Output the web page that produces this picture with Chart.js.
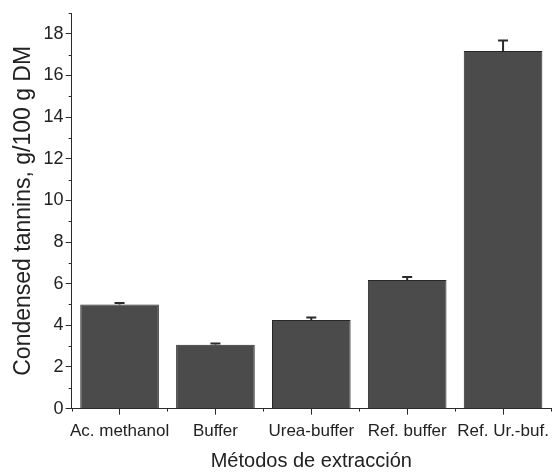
<!DOCTYPE html>
<html>
<head>
<meta charset="utf-8">
<script src="https://cdn.jsdelivr.net/npm/chart.js@4"></script>
<style>
  html, body { margin: 0; padding: 0; background: #fff; }
  #wrap { width: 552px; height: 473px; }
</style>
</head>
<body>
<div id="wrap"><canvas id="chart" width="552" height="473"></canvas></div>
<script>
// data
const methods  = ['Ac. methanol', 'Buffer', 'Urea-buffer', 'Ref. buffer', 'Ref. Ur.-buf.'];
const tannins  = [5.0, 3.07, 4.25, 6.18, 17.18];
const tanninSd = [0.07, 0.06, 0.13, 0.14, 0.5];

const ink = '#2b2b2b';

// upward error bars + minor ticks on both axes
const extras = {
  id: 'extras',
  afterDatasetsDraw(chart) {
    const ctx = chart.ctx;
    const x = chart.scales.x, y = chart.scales.y;
    ctx.save();
    ctx.strokeStyle = ink;
    ctx.lineWidth = 2;
    tannins.forEach((v, i) => {
      const px = x.getPixelForValue(i);
      const top = y.getPixelForValue(v + tanninSd[i]);
      const base = y.getPixelForValue(v);
      ctx.beginPath();
      ctx.moveTo(px, base); ctx.lineTo(px, top);
      ctx.moveTo(px - 5, top); ctx.lineTo(px + 5, top);
      ctx.stroke();
    });
    ctx.lineWidth = 1;
    // minor x ticks at category boundaries
    const y0 = y.getPixelForValue(0);
    for (let i = 0; i <= methods.length; i++) {
      const px = Math.round(x.getPixelForValue(i - 0.5)) + 0.5;
      ctx.beginPath(); ctx.moveTo(px, y0); ctx.lineTo(px, y0 + 3); ctx.stroke();
    }
    // minor y ticks at odd values
    const x0 = x.left;
    for (let v = 1; v <= 19; v += 2) {
      const py = Math.round(y.getPixelForValue(v)) + 0.5;
      ctx.beginPath(); ctx.moveTo(x0, py); ctx.lineTo(x0 - 3, py); ctx.stroke();
    }
    ctx.restore();
  }
};

new Chart(document.getElementById('chart'), {
  type: 'bar',
  data: {
    labels: methods,
    datasets: [{
      data: tannins,
      backgroundColor: '#4b4b4b',
      borderColor: '#262626',
      borderWidth: 1,
      categoryPercentage: 1,
      barPercentage: 0.82
    }]
  },
  plugins: [extras],
  options: {
    responsive: false,
    animation: false,
    layout: { padding: { top: 13, right: 1, left: 10, bottom: 0 } },
    plugins: { legend: { display: false }, tooltip: { enabled: false } },
    scales: {
      x: {
        afterFit: s => { s.paddingRight = 0; },
        grid: { offset: false, drawOnChartArea: false, tickLength: 6, tickColor: ink },
        border: { color: ink, width: 1 },
        ticks: { color: '#222', font: { family: 'Liberation Sans', size: 17 }, padding: 7, maxRotation: 0, autoSkip: false },
        title: { display: true, text: 'Métodos de extracción', color: '#222',
                 font: { family: 'Liberation Sans', size: 20 }, padding: { top: 0, bottom: 0 } }
      },
      y: {
        min: 0, max: 19,
        grid: { drawOnChartArea: false, tickLength: 6,
                tickColor: c => (c.tick && c.tick.value % 2 === 0) ? ink : 'rgba(0,0,0,0)' },
        border: { color: ink, width: 1 },
        ticks: { stepSize: 1, color: '#222', font: { family: 'Liberation Sans', size: 18 }, padding: 2,
                 callback: v => v % 2 === 0 ? v : '' },
        title: { display: true, text: 'Condensed tannins, g/100 g DM', color: '#222',
                 font: { family: 'Liberation Sans', size: 23 }, padding: { top: 0, bottom: 4 } }
      }
    }
  }
});
</script>
</body>
</html>
